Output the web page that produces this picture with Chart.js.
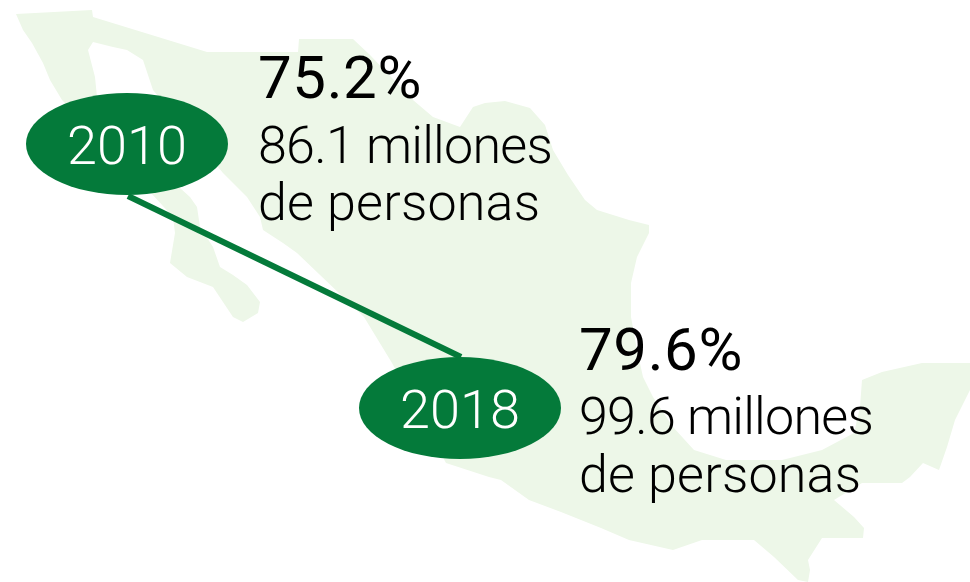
<!DOCTYPE html>
<html>
<head>
<meta charset="utf-8">
<title>Personas</title>
<script src="https://cdn.jsdelivr.net/npm/chart.js@4"></script>
<style>
  html, body { margin: 0; padding: 0; background: #fff; }
  canvas { display: block; }
</style>
</head>
<body>
<canvas id="chart" width="970" height="582"></canvas>
<script>
// --- DATA ---
const years = ['2010', '2018'];
const yearX = [127, 460];
const yearY = [144, 408];
const shares = ['75.2%', '79.6%'];
const people = ['86.1 millones', '99.6 millones'];
const peopleLine2 = ['de personas', 'de personas'];

// connector between the two years
const linkX = [128, 461];
const linkY = [196, 357];

// map outline
const mapX = [16, 92, 93, 207, 298, 299, 353, 370, 392, 413, 433, 460, 473, 485, 505, 530, 545, 553, 568, 585, 597, 629, 649, 649, 637, 631, 631, 637, 643, 653, 673, 694, 726, 782, 822, 854, 860, 862, 882, 922, 970, 970, 955, 947, 939, 923, 910, 902, 862, 834, 854, 864, 863, 822, 808, 810, 808, 798, 774, 754, 702, 673, 629, 601, 561, 529, 501, 489, 446, 392, 378, 364, 297, 283, 263, 260, 247, 223, 153, 143, 127, 113, 93, 88, 95, 97, 125, 160, 190, 197, 200, 213, 220, 233, 247, 260, 258, 243, 233, 213, 187, 170, 175, 173, 130, 62, 50, 43, 32, 23];
const mapY = [14, 10, 17, 52, 52, 39, 39, 55, 78, 100, 117, 127, 107, 103, 101, 108, 125, 150, 175, 200, 210, 220, 225, 233, 257, 283, 317, 350, 377, 397, 427, 450, 460, 460, 450, 433, 407, 380, 372, 363, 363, 390, 420, 447, 470, 463, 477, 483, 483, 500, 517, 528, 538, 538, 560, 570, 582, 580, 557, 540, 540, 550, 540, 528, 512, 500, 480, 477, 463, 363, 340, 317, 253, 243, 230, 217, 197, 173, 90, 60, 50, 47, 42, 50, 77, 97, 120, 170, 197, 207, 227, 247, 267, 275, 285, 302, 313, 322, 317, 287, 277, 263, 233, 217, 170, 100, 80, 63, 43, 30];

// --- COLOURS ---
const GREEN = '#047a3a';
const LAND = '#edf7e8';
const FONT = '300 52px Roboto, "Liberation Sans", sans-serif';
const FONT_YEAR = '300 54px Roboto, "Liberation Sans", sans-serif';
const FONT_BIG = '400 60px Roboto, "Liberation Sans", sans-serif';

// oval badge used as the point style
function makeOval(rx, ry) {
    const c = document.createElement('canvas');
    c.width = rx * 2;
    c.height = ry * 2;
    const g = c.getContext('2d');
    g.fillStyle = GREEN;
    g.beginPath();
    g.ellipse(rx, ry, rx, ry, 0, 0, Math.PI * 2);
    g.fill();
    return c;
}

// texts are anchored on the year points through the scales
const textPlugin = {
    id: 'texts',
    afterDatasetsDraw(chart) {
        const { ctx, scales } = chart;
        ctx.save();
        ctx.textBaseline = 'alphabetic';
        years.forEach((year, i) => {
            const x = scales.x.getPixelForValue(yearX[i]);
            const y = scales.y.getPixelForValue(yearY[i]);
            ctx.font = FONT_YEAR;
            ctx.letterSpacing = '0px';
            ctx.textAlign = 'center';
            ctx.fillStyle = '#fff';
            ctx.fillText(year, x, y + 20);

            const tx = x + (i === 0 ? 131 : 119);
            ctx.textAlign = 'left';
            ctx.fillStyle = '#000';
            ctx.font = FONT_BIG;
            ctx.letterSpacing = '0.6px';
            ctx.fillText(shares[i], tx, y - 46 + (i === 0 ? 0 : 8));
            ctx.font = FONT;
            ctx.letterSpacing = '-0.75px';
            ctx.fillText(people[i], tx, y + 19 + (i === 0 ? 0 : 7));
            ctx.letterSpacing = '0.2px';
            ctx.fillText(peopleLine2[i], tx, y + 76 + (i === 0 ? 0 : 8));
        });
        ctx.restore();
    }
};

new Chart(document.getElementById('chart'), {
    type: 'scatter',
    data: {
        datasets: [
            {
                label: 'Años',
                data: yearX.map((x, i) => ({ x, y: yearY[i] })),
                pointStyle: makeOval(101, 51),
                order: 1
            },
            {
                label: 'Enlace',
                data: linkX.map((x, i) => ({ x, y: linkY[i] })),
                showLine: true,
                borderColor: GREEN,
                borderWidth: 6,
                pointRadius: 0,
                order: 2
            },
            {
                label: 'Mapa',
                data: mapX.map((x, i) => ({ x, y: mapY[i] })),
                showLine: true,
                fill: 'shape',
                backgroundColor: LAND,
                borderColor: LAND,
                borderWidth: 0,
                pointRadius: 0,
                order: 3
            }
        ]
    },
    options: {
        responsive: false,
        animation: false,
        events: [],
        layout: { padding: 0, autoPadding: false },
        scales: {
            x: { type: 'linear', display: false, min: 0, max: 970 },
            y: { type: 'linear', display: false, min: 0, max: 582, reverse: true }
        },
        plugins: {
            legend: { display: false },
            tooltip: { enabled: false }
        }
    },
    plugins: [textPlugin]
});
</script>
</body>
</html>
